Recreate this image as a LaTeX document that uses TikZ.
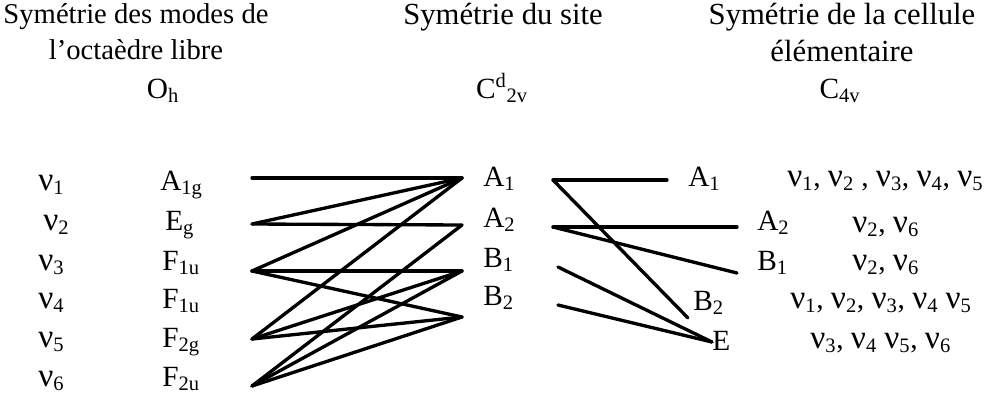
\documentclass[tikz,border=0pt]{standalone}
\usepackage{fontspec}
\setmainfont{Liberation Serif}
\usetikzlibrary{positioning}
\newcommand{\vib}[1]{{\fontsize{25}{25}\selectfont ν}\textsubscript{#1}}

\begin{document}
\begin{tikzpicture}[
  x=0.75pt, y=-0.75pt,
  head/.style={align=center, anchor=north, inner sep=0pt, font=\fontsize{23}{27.5}\selectfont},
  lab/.style={anchor=base west, inner sep=0pt, font=\fontsize{22}{25}\selectfont},
  link/.style={line width=2.5pt, line cap=round}
]
\useasboundingbox (0,0) rectangle (1001,394);

% titles
\node[head, font=\fontsize{21.5}{27.5}\selectfont] (t1) at (136,3) {Symétrie des modes de\\l'octaèdre libre};
\node[head] (t2) at (503,3) {Symétrie du site};
\node[head] (t3) at (842,3) {Symétrie de la cellule\\élémentaire};
\node[lab, anchor=base] (oh) at (163,98) {O\textsubscript{h}};
\node[lab, anchor=base] (c2v) at (502,98) {C\textsuperscript{d}\textsubscript{2v}};
\node[lab, anchor=base] (c4v) at (840,98) {C\textsubscript{4v}};

% free octahedron
\node[lab] (n1) at (38,190) {\vib{1}};
\node[lab] (n2) at (43,230) {\vib{2}};
\node[lab] (n3) at (38,270) {\vib{3}};
\node[lab] (n4) at (38,308) {\vib{4}};
\node[lab] (n5) at (38,347) {\vib{5}};
\node[lab] (n6) at (38,386) {\vib{6}};
\node[lab] (a1g) at (160,190) {A\textsubscript{1g}};
\node[lab] (eg) at (165,230) {E\textsubscript{g}};
\node[lab] (f1ua) at (162,270) {F\textsubscript{1u}};
\node[lab] (f1ub) at (162,308) {F\textsubscript{1u}};
\node[lab] (f2g) at (162,347) {F\textsubscript{2g}};
\node[lab] (f2u) at (162,386) {F\textsubscript{2u}};

% site
\node[lab] (sa1) at (483,186) {A\textsubscript{1}};
\node[lab] (sa2) at (483,227) {A\textsubscript{2}};
\node[lab] (sb1) at (483,267) {B\textsubscript{1}};
\node[lab] (sb2) at (483,305) {B\textsubscript{2}};

% unit cell
\node[lab] (ca1) at (688,186) {A\textsubscript{1}};
\node[lab] (ca2) at (757,230) {A\textsubscript{2}};
\node[lab] (cb1) at (757,270) {B\textsubscript{1}};
\node[lab] (cb2) at (693,310) {B\textsubscript{2}};
\node[lab] (ce) at (712,350) {E};
\node[lab] (m1) at (787,186) {\vib{1}, \vib{2} , \vib{3}, \vib{4}, \vib{5}};
\node[lab] (m2) at (852,232) {\vib{2}, \vib{6}};
\node[lab] (m3) at (852,270) {\vib{2}, \vib{6}};
\node[lab] (m4) at (790,308) {\vib{1}, \vib{2}, \vib{3}, \vib{4} \vib{5}};
\node[lab] (m5) at (810,348) {\vib{3}, \vib{4} \vib{5}, \vib{6}};

% line ends
\coordinate (a1g-r) at (252,178);
\coordinate (eg-r) at (252,224);
\coordinate (f1u-r) at (252,271);
\coordinate (f2g-r) at (252,339);
\coordinate (f2u-r) at (252,386);
\coordinate (sa1-l) at (462,178);
\coordinate (sa2-l) at (462,225);
\coordinate (sb1-l) at (462,271);
\coordinate (sb2-l) at (462,317);
\coordinate (sa1-r) at (553,180);
\coordinate (sa2-r) at (553,227);
\coordinate (sb1-r) at (558,267);
\coordinate (sb2-r) at (558,305);
\coordinate (ca1-l) at (667,180);
\coordinate (ca2-l) at (737,227);
\coordinate (cb1-l) at (737,273);
\coordinate (cb2-l) at (688,318);
\coordinate (ce-l) at (712,342);

\draw[link] (a1g-r) -- (sa1-l);
\draw[link] (eg-r) -- (sa1-l);
\draw[link] (eg-r) -- (sa2-l);
\draw[link] (f1u-r) -- (sa1-l);
\draw[link] (f1u-r) -- (sb1-l);
\draw[link] (f1u-r) -- (sb2-l);
\draw[link] (f2g-r) -- (sa1-l);
\draw[link] (f2g-r) -- (sb1-l);
\draw[link] (f2g-r) -- (sb2-l);
\draw[link] (f2u-r) -- (sa2-l);
\draw[link] (f2u-r) -- (sb1-l);
\draw[link] (f2u-r) -- (sb2-l);

\draw[link] (sa1-r) -- (ca1-l);
\draw[link] (sa1-r) -- (cb2-l);
\draw[link] (sa2-r) -- (ca2-l);
\draw[link] (sa2-r) -- (cb1-l);
\draw[link] (sb1-r) -- (ce-l);
\draw[link] (sb2-r) -- (ce-l);
\end{tikzpicture}
\end{document}
